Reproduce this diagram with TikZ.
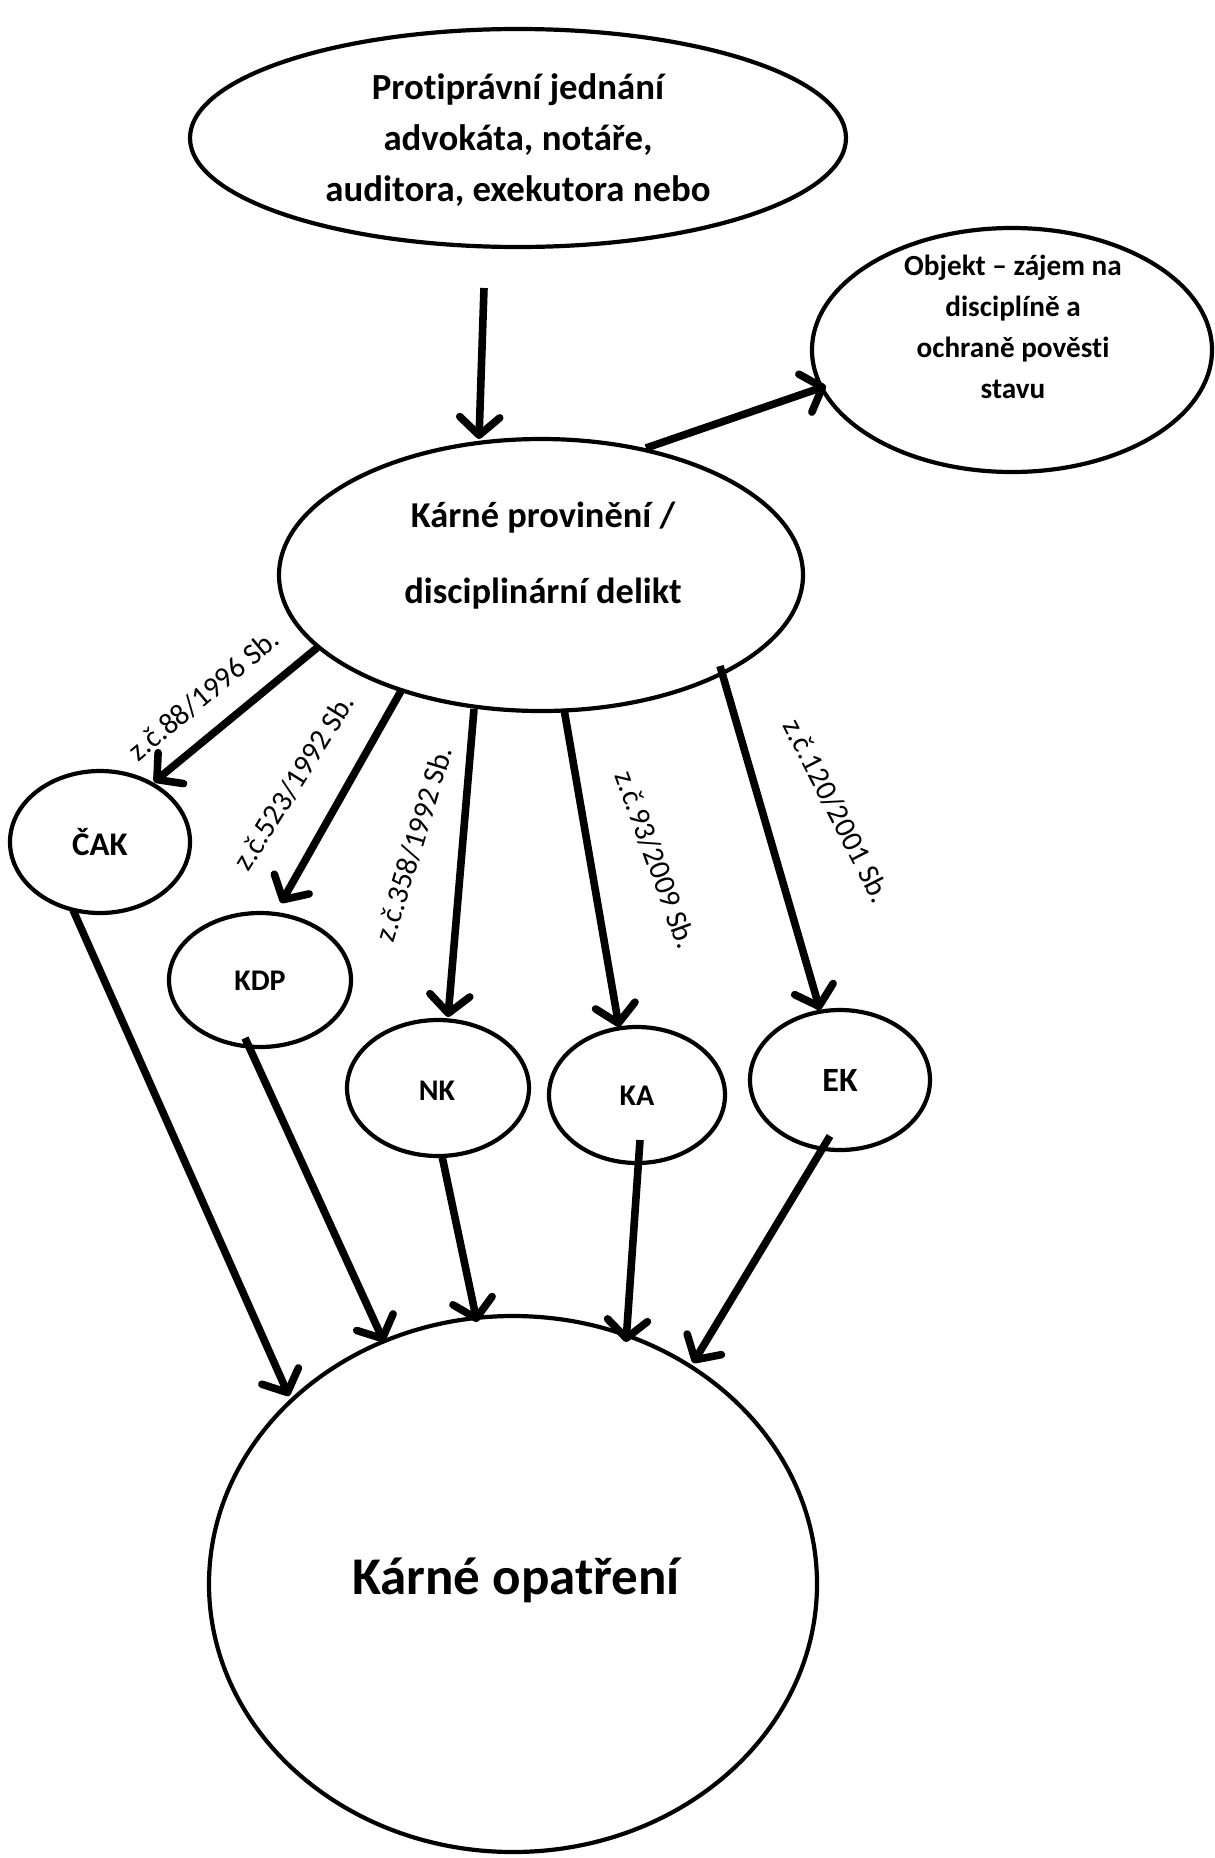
\documentclass[tikz,border=0pt]{standalone}
\usepackage{fontspec}
\setmainfont{Carlito}[Ligatures=NoCommon]
\usetikzlibrary{shapes.geometric,arrows.meta,calc}
\begin{document}
\begin{tikzpicture}[x=0.5pt,y=-0.5pt,
  oval/.style={draw,ellipse,line width=2.1pt,inner sep=0pt},
  txt/.style={align=center,inner sep=0pt,font=\bfseries},
  arr/.style={line width=3.8pt,-{Straight Barb[length=9pt,width=20pt,round]}},
  law/.style={font=\fontsize{15}{18}\selectfont,inner sep=0pt}]
\useasboundingbox (0,0) rectangle (1215,1858);
% ovals
\node[oval,minimum width=328pt,minimum height=109pt] (top) at (518,138) {};
\node[oval,minimum width=200pt,minimum height=122pt] (obj) at (1012,350) {};
\node[oval,minimum width=262pt,minimum height=136pt] (kp) at (541,575) {};
\node[oval,minimum width=90pt,minimum height=71pt] (cak) at (100,842) {};
\node[oval,minimum width=91pt,minimum height=67pt] (kdp) at (260,980) {};
\node[oval,minimum width=91pt,minimum height=68pt] (nk) at (438,1088) {};
\node[oval,minimum width=88pt,minimum height=68pt] (ka) at (637,1095) {};
\node[oval,minimum width=90pt,minimum height=70pt] (ek) at (840,1080) {};
\node[oval,minimum width=304pt,minimum height=268pt] (ko) at (513,1584) {};
% texts
\node[txt,font=\bfseries\fontsize{18.4}{25.5}\selectfont] (toptxt) at (518,140)
  {Protiprávní jednání\\advokáta, notáře,\\auditora, exekutora nebo};
\node[txt,font=\bfseries\fontsize{14.6}{20.5}\selectfont] (objtxt) at (1013,327)
  {Objekt – zájem na\\disciplíně a\\ochraně pověsti\\stavu};
\node[txt,font=\bfseries\fontsize{18.2}{38}\selectfont] (kptxt) at (543,556)
  {Kárné provinění /\\disciplinární delikt};
\node[txt,font=\bfseries\fontsize{16.5}{18}\selectfont] (caktxt) at (100,842) {ČAK};
\node[txt,font=\bfseries\fontsize{15}{18}\selectfont] (kdptxt) at (260,981) {KDP};
\node[txt,font=\bfseries\fontsize{15}{18}\selectfont] (nktxt) at (437,1091) {NK};
\node[txt,font=\bfseries\fontsize{15}{18}\selectfont] (katxt) at (637,1096) {KA};
\node[txt,font=\bfseries\fontsize{17}{20}\selectfont] (ektxt) at (840,1080) {EK};
\node[txt,font=\bfseries\fontsize{26.5}{30}\selectfont] (kotxt) at (516,1580) {Kárné opatření};
% law labels
\node[law,rotate=40] (l88) at (204,695) {z.č.88/1996 Sb.};
\node[law,rotate=58] (l523) at (294,782) {z.č.523/1992 Sb.};
\node[law,rotate=73] (l358) at (414,844) {z.č.358/1992 Sb.};
\node[law,rotate=-70] (l93) at (656,860) {z.č.93/2009 Sb.};
\node[law,rotate=-63] (l120) at (837,811) {z.č.120/2001 Sb.};
% connectors
\draw[arr] ($(top.center)+(-34,150)$) -- ($(kp.center)+(-62,-136)$);
\draw[arr] ($(kp.center)+(105,-127)$) -- ($(obj.center)+(-186,36)$);
\draw[arr] ($(kp.center)+(-223,72)$) -- ($(cak.center)+(54,-60)$);
\draw[arr] ($(kp.center)+(-140,116)$) -- ($(kdp.center)+(21,-77)$);
\draw[arr] ($(kp.center)+(-67,134)$) -- ($(nk.center)+(10,-71)$);
\draw[arr] ($(kp.center)+(23,134)$) -- ($(ka.center)+(-18,-68)$);
\draw[arr] ($(kp.center)+(179,91)$) -- ($(ek.center)+(-20,-70)$);
\draw[arr] ($(cak.center)+(-27,68)$) -- ($(ko.center)+(-224,-188)$);
\draw[arr] ($(kdp.center)+(-15,58)$) -- ($(ko.center)+(-129,-242)$);
\draw[arr] ($(nk.center)+(4,68)$) -- ($(ko.center)+(-36,-262)$);
\draw[arr] ($(ka.center)+(3,45)$) -- ($(ko.center)+(113,-242)$);
\draw[arr] ($(ek.center)+(-10,56)$) -- ($(ko.center)+(180,-221)$);
\end{tikzpicture}
\end{document}
